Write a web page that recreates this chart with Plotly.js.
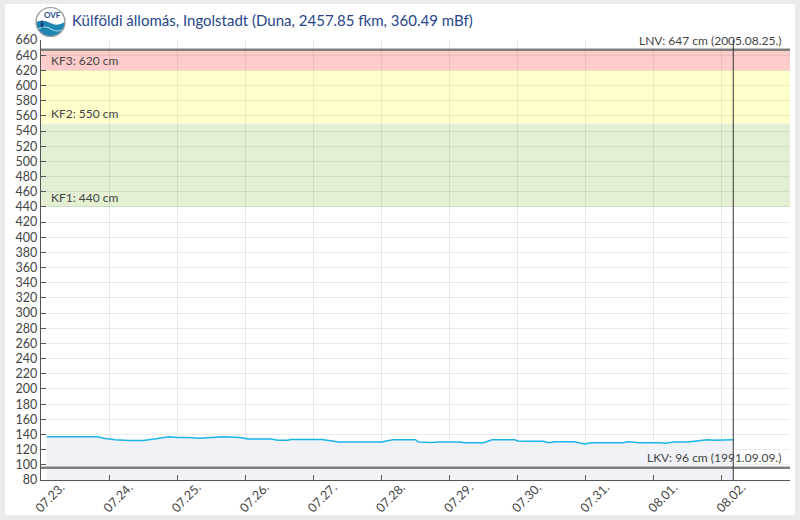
<!DOCTYPE html>
<html>
<head>
<meta charset="utf-8">
<script src="https://cdn.plot.ly/plotly-3.0.1.min.js"></script>
<style>
  html, body { margin: 0; padding: 0; background: #ebebeb; width: 800px; height: 520px; overflow: hidden; }
  #panel { position: absolute; left: 5px; top: 4px; width: 790px; height: 511px; background: #ffffff; }
  #chart { width: 790px; height: 511px; }
</style>
</head>
<body>
<div id="panel"><div id="chart"></div></div>
<script>
// ---- data ----
const titleText = "Külföldi állomás, Ingolstadt (Duna, 2457.85 fkm, 360.49 mBf)";

const times = [
  "2025-07-23 02:00", "2025-07-23 20:00", "2025-07-23 22:00", "2025-07-24 00:00",
  "2025-07-24 02:00", "2025-07-24 07:00", "2025-07-24 12:00", "2025-07-24 16:00",
  "2025-07-24 21:00", "2025-07-25 00:00", "2025-07-25 04:00", "2025-07-25 08:00",
  "2025-07-25 12:00", "2025-07-25 16:00", "2025-07-25 22:00", "2025-07-26 01:00",
  "2025-07-26 09:00", "2025-07-26 11:30", "2025-07-26 15:00", "2025-07-26 16:00",
  "2025-07-27 03:00", "2025-07-27 05:00", "2025-07-27 09:00", "2025-07-28 00:00",
  "2025-07-28 04:00", "2025-07-28 12:00", "2025-07-28 13:00", "2025-07-28 17:30",
  "2025-07-28 20:00", "2025-07-29 04:00", "2025-07-29 05:00", "2025-07-29 12:00",
  "2025-07-29 15:00", "2025-07-29 23:00", "2025-07-30 00:00", "2025-07-30 04:00",
  "2025-07-30 09:00", "2025-07-30 11:00", "2025-07-30 13:00", "2025-07-30 20:00",
  "2025-07-30 23:30", "2025-07-31 02:00", "2025-07-31 13:00", "2025-07-31 15:00",
  "2025-07-31 19:00", "2025-08-01 02:00", "2025-08-01 04:00", "2025-08-01 07:00",
  "2025-08-01 12:00", "2025-08-01 16:30", "2025-08-01 19:00", "2025-08-01 21:00",
  "2025-08-01 23:30", "2025-08-02 04:00"
];
const levels = [
  137, 137, 135, 134,
  133, 132, 132, 134,
  137, 136, 136, 135,
  136, 137, 136, 134,
  134, 132.5, 132.5, 133.5,
  133.5, 132, 130, 130,
  133, 133, 130, 129.5,
  130, 130, 129, 129,
  133, 133, 131.5, 131,
  131, 129, 130.5, 130.5,
  127.5, 129, 129, 130.5,
  129, 129, 128.5, 130,
  130, 132, 133, 132.5,
  133, 133
];

const tickDates = [
  "2025-07-23", "2025-07-24", "2025-07-25", "2025-07-26", "2025-07-27", "2025-07-28",
  "2025-07-29", "2025-07-30", "2025-07-31", "2025-08-01", "2025-08-02"
];
const xRange = ["2025-07-23 00:00", "2025-08-03 00:00"];
const yRange = [80, 660];
const nowTime = "2025-08-02 04:00";

const kfNames = ["KF1", "KF2", "KF3"];
const kfLevels = [440, 550, 620];
const lnv = 647, lnvDate = "2005.08.25.";
const lkv = 96, lkvDate = "1991.09.09.";

// ---- build ----
const bandColors = ["#e3f0d3", "#ffffcc", "#ffcccc"];
const bandTops = [kfLevels[1], kfLevels[2], lnv];

const shapes = [];
kfLevels.forEach((lv, i) => {
  shapes.push({
    type: "rect", xref: "paper", yref: "y", x0: 0, x1: 1, y0: lv, y1: bandTops[i],
    fillcolor: bandColors[i], line: { width: 0 }, layer: "below"
  });
});
// record lines
[lnv, lkv].forEach(v => {
  shapes.push({
    type: "line", xref: "paper", yref: "y", x0: 0, x1: 1, y0: v, y1: v,
    line: { color: "#7f7f7f", width: 2.5 }, layer: "above"
  });
});
// current time line
shapes.push({
  type: "line", xref: "x", yref: "paper", x0: nowTime, x1: nowTime, y0: 0, y1: 1,
  line: { color: "#333333", width: 1 }, layer: "above"
});
// logo
shapes.push({
  type: "circle", xref: "paper", yref: "paper", xsizemode: "pixel", ysizemode: "pixel",
  xanchor: 0, yanchor: 1, x0: -5, x1: 24, y0: 3.5, y1: 32.5,
  fillcolor: "#1f86b3", line: { width: 0 }
});
shapes.push({
  type: "path", xref: "paper", yref: "paper", xsizemode: "pixel", ysizemode: "pixel",
  xanchor: 0, yanchor: 1,
  path: "M -4.8,18 C -4.8,37.5 23.8,37.5 23.8,18 Q 16,13 9.5,17 Q 2,21 -4.8,18 Z",
  fillcolor: "#ffffff", line: { width: 0 }
});
shapes.push({
  type: "path", xref: "paper", yref: "paper", xsizemode: "pixel", ysizemode: "pixel",
  xanchor: 0, yanchor: 1,
  path: "M -3,11 Q 4,15 10,11 Q 16,7 23,11",
  line: { color: "#9fd6ea", width: 1.2 }
});
shapes.push({
  type: "path", xref: "paper", yref: "paper", xsizemode: "pixel", ysizemode: "pixel",
  xanchor: 0, yanchor: 1,
  path: "M 1,20 Q -2,15 1,12 Q 4,15 1,20 Z",
  fillcolor: "#1b3f7a", line: { width: 0 }
});
shapes.push({
  type: "circle", xref: "paper", yref: "paper", xsizemode: "pixel", ysizemode: "pixel",
  xanchor: 0, yanchor: 1, x0: -5, x1: 24, y0: 3.5, y1: 32.5,
  line: { color: "#9a9a9a", width: 1.2 }
});

const labelFont = { family: "Lato, 'Open Sans', sans-serif", size: 12, color: "#444444" };
const annotations = [];
kfLevels.forEach((lv, i) => {
  annotations.push({
    xref: "paper", yref: "y", x: 0, y: lv, xanchor: "left", yanchor: "bottom",
    xshift: 8, yshift: 0, showarrow: false, text: kfNames[i] + ": " + lv + " cm", font: labelFont
  });
});
annotations.push({
  xref: "paper", yref: "y", x: 1, y: lnv, xanchor: "right", yanchor: "bottom",
  xshift: -6, yshift: 0, showarrow: false, text: "LNV: " + lnv + " cm (" + lnvDate + ")", font: labelFont
});
annotations.push({
  xref: "paper", yref: "y", x: 1, y: lkv, xanchor: "right", yanchor: "bottom",
  xshift: -7, yshift: 1, showarrow: false, text: "LKV: " + lkv + " cm (" + lkvDate + ")", font: labelFont
});
annotations.push({
  xref: "paper", yref: "paper", x: 0, y: 1, xanchor: "left", yanchor: "middle",
  xshift: 29, yshift: 20, showarrow: false, text: titleText,
  font: { family: "Lato, 'Open Sans', sans-serif", size: 15, color: "#27468a" }
});
annotations.push({
  xref: "paper", yref: "paper", x: 0, y: 1, xanchor: "center", yanchor: "middle",
  xshift: 11, yshift: 25, showarrow: false, text: "<b>OVF</b>",
  font: { family: "Lato, sans-serif", size: 8, color: "#1f4f8f" }
});

const trace = {
  type: "scatter", mode: "lines", x: times, y: levels,
  line: { color: "#1ab4e6", width: 1.5, shape: "linear" },
  fill: "tozeroy", fillcolor: "#f1f2f7", hoverinfo: "x+y"
};

const axisFont = { family: "Lato, 'Open Sans', sans-serif", size: 12.5, color: "#444444" };
const layout = {
  width: 790, height: 511,
  margin: { l: 36, r: 5, t: 36, b: 35 },
  paper_bgcolor: "#ffffff", plot_bgcolor: "rgba(0,0,0,0)",
  showlegend: false,
  xaxis: {
    type: "date", range: xRange, tickvals: tickDates, tickformat: "%m.%d.",
    tickangle: -45, tickfont: axisFont, ticklabelshift: 20, ticklabelstandoff: -6,
    showgrid: true, gridcolor: "rgba(0,0,0,0.08)", gridwidth: 1,
    showline: true, linecolor: "#555555", linewidth: 1.3,
    ticks: "inside", ticklen: 5, tickcolor: "#555555", zeroline: false, fixedrange: true
  },
  yaxis: {
    range: yRange, dtick: 20, tick0: 0, tickfont: axisFont,
    showgrid: true, gridcolor: "rgba(0,0,0,0.08)", gridwidth: 1,
    showline: true, linecolor: "#555555", linewidth: 1.3,
    ticks: "inside", ticklen: 5, tickcolor: "#555555", zeroline: false, fixedrange: true
  },
  shapes: shapes,
  annotations: annotations
};

Plotly.newPlot("chart", [trace], layout, { displayModeBar: false, staticPlot: true });
</script>
</body>
</html>
